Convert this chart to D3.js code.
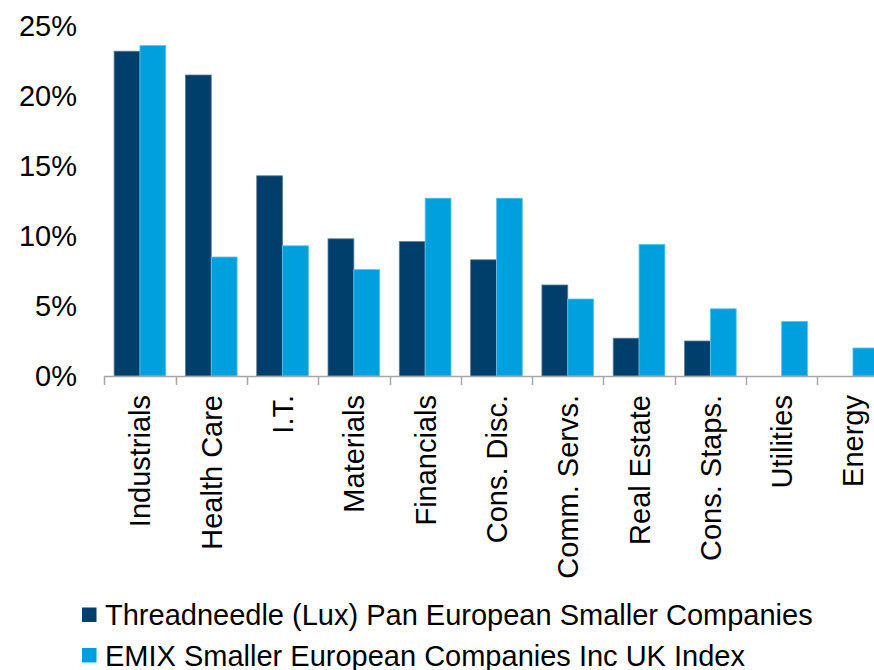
<!DOCTYPE html>
<html>
<head>
<meta charset="utf-8">
<script src="https://cdn.jsdelivr.net/npm/d3@7"></script>
<style>
html,body{margin:0;padding:0;background:#fff;overflow:hidden;}
svg{display:block;font-family:"Liberation Sans",Arial,sans-serif;}
</style>
</head>
<body>
<svg id="chart" width="874" height="670"></svg>
<script>
const categories = ["Industrials","Health Care","I.T.","Materials","Financials","Cons. Disc.","Comm. Servs.","Real Estate","Cons. Staps.","Utilities","Energy"];
const seriesNames = ["Threadneedle (Lux) Pan European Smaller Companies","EMIX Smaller European Companies Inc UK Index"];
const fundValues = [23.2,21.5,14.3,9.8,9.6,8.3,6.5,2.7,2.5,0,0];
const indexValues = [23.6,8.5,9.3,7.6,12.7,12.7,5.5,9.4,4.8,3.9,2.0];
const yTicks = [0,5,10,15,20,25];
const colors = ["#003E6B","#00A0DF"];
const FS = 29;

const svg = d3.select("#chart");
const x0 = 104.3, step = 71.3;
const x = d3.scaleBand().domain(categories).range([x0, x0 + step*categories.length]).padding(0);
const sub = d3.scaleBand().domain([0,1]).range([0, x.bandwidth()]).paddingInner(0).paddingOuter(0.38);
const y = d3.scaleLinear().domain([0,25]).range([376,26]);

// Y labels
svg.append("g").selectAll("text").data(yTicks).join("text")
  .attr("x",77).attr("y",d=>y(d)).attr("dy","0.36em")
  .attr("text-anchor","end").attr("font-size",FS).attr("fill","#000")
  .text(d=>d+"%");

// bars
const data = categories.map((c,i)=>({c, v:[fundValues[i], indexValues[i]]}));
const g = svg.append("g");
data.forEach(d=>{
  d.v.forEach((v,j)=>{
    if (v<=0) return;
    g.append("rect")
      .attr("x", x(d.c)+sub(j)).attr("width", sub.bandwidth())
      .attr("y", y(v)).attr("height", y(0)-y(v))
      .attr("fill", colors[j])
      .attr("stroke", j===0 ? "#5d7c96" : "#5cc3ec").attr("stroke-width",0.8);
  });
});

// x axis
const ax = svg.append("g");
ax.append("line").attr("x1",x0).attr("x2",x0+step*categories.length).attr("y1",376.5).attr("y2",376.5)
  .attr("stroke","#a6a6a6").attr("stroke-width",1.5);
const bounds = categories.map(c=>x(c)).concat([x0+step*categories.length]);
ax.selectAll("line.tk").data(bounds).join("line").attr("class","tk")
  .attr("x1",d=>Math.round(d)+0.5).attr("x2",d=>Math.round(d)+0.5).attr("y1",376).attr("y2",385)
  .attr("stroke","#a6a6a6").attr("stroke-width",1.5);

// x labels
svg.append("g").selectAll("text").data(categories).join("text")
  .attr("transform",d=>`translate(${x(d)+x.bandwidth()/2},395) rotate(-90)`)
  .attr("dy","0.36em").attr("text-anchor","end").attr("font-size",FS).attr("fill","#000")
  .text(d=>d);

// legend
const lg = svg.append("g");
seriesNames.forEach((n,i)=>{
  const cy = 615 + i*40.5;
  lg.append("rect").attr("x",82).attr("y",cy-7.5).attr("width",14.5).attr("height",14.5).attr("fill",colors[i]);
  lg.append("text").attr("x",105).attr("y",cy).attr("dy","0.36em").attr("font-size",FS).attr("fill","#000").text(n);
});
</script>
</body>
</html>
